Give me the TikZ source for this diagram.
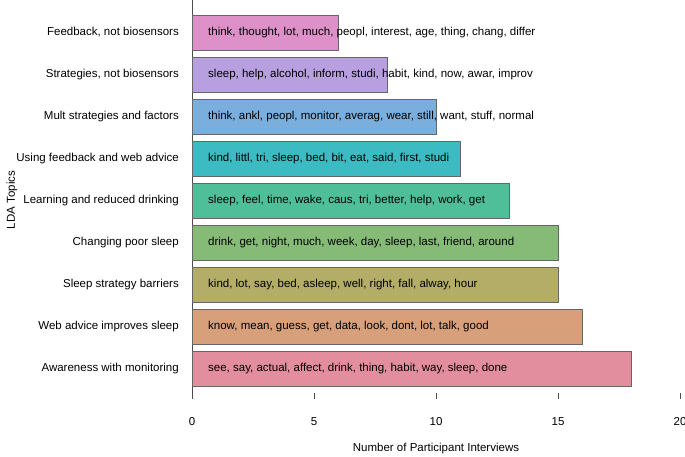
\documentclass[tikz,border=0pt]{standalone}
\usepackage{fontspec}
\setmainfont{Liberation Sans}
\definecolor{c1}{HTML}{DD91C8}
\definecolor{c2}{HTML}{B89FE0}
\definecolor{c3}{HTML}{7AAEDD}
\definecolor{c4}{HTML}{3DBBC3}
\definecolor{c5}{HTML}{4FBF9A}
\definecolor{c6}{HTML}{85BA77}
\definecolor{c7}{HTML}{B3AD67}
\definecolor{c8}{HTML}{D8A07A}
\definecolor{c9}{HTML}{E38E9E}
\begin{document}
\begin{tikzpicture}[x=1pt,y=-1pt,font=\fontsize{11.5}{13}\selectfont,
  barbox/.style={draw=black!60,line width=0.6pt},
  lbl/.style={anchor=east,inner sep=0pt},
  wrd/.style={anchor=west,inner sep=0pt}]
\useasboundingbox (0,0) rectangle (685,456);
\draw[black!70,line width=0.6pt] (192,0) -- (192,399);
\foreach \v/\p in {0/192,5/314,10/436,15/558,20/680}{
  \draw[black!70,line width=0.6pt] (\p,393) -- (\p,399);
  \node[inner sep=0pt] (t\v) at (\p,422) {\v};
}
\foreach \i/\val/\col/\lab/\w in {
 0/6/c1/{Feedback, not biosensors}/{think, thought, lot, much, peopl, interest, age, thing, chang, differ},
 1/8/c2/{Strategies, not biosensors}/{sleep, help, alcohol, inform, studi, habit, kind, now, awar, improv},
 2/10/c3/{Mult strategies and factors}/{think, ankl, peopl, monitor, averag, wear, still, want, stuff, normal},
 3/11/c4/{Using feedback and web advice}/{kind, littl, tri, sleep, bed, bit, eat, said, first, studi},
 4/13/c5/{Learning and reduced drinking}/{sleep, feel, time, wake, caus, tri, better, help, work, get},
 5/15/c6/{Changing poor sleep}/{drink, get, night, much, week, day, sleep, last, friend, around},
 6/15/c7/{Sleep strategy barriers}/{kind, lot, say, bed, asleep, well, right, fall, alway, hour},
 7/16/c8/{Web advice improves sleep}/{know, mean, guess, get, data, look, dont, lot, talk, good},
 8/18/c9/{Awareness with monitoring}/{see, say, actual, affect, drink, thing, habit, way, sleep, done}}{
  \pgfmathsetmacro{\yc}{32.5+42*\i}
  \pgfmathsetmacro{\xe}{192+24.4*\val}
  \draw[barbox,fill=\col] (192,\yc-17.5) rectangle (\xe,\yc+17.5);
  \node[lbl] (l\i) at (179,\yc) {\lab};
  \node[wrd] (w\i) at (208,\yc) {\w};
}
\node[rotate=90,inner sep=0pt] (ylab) at (12,200) {LDA Topics};
\node[inner sep=0pt] (xlab) at (436,449) {Number of Participant Interviews};
\end{tikzpicture}
\end{document}
